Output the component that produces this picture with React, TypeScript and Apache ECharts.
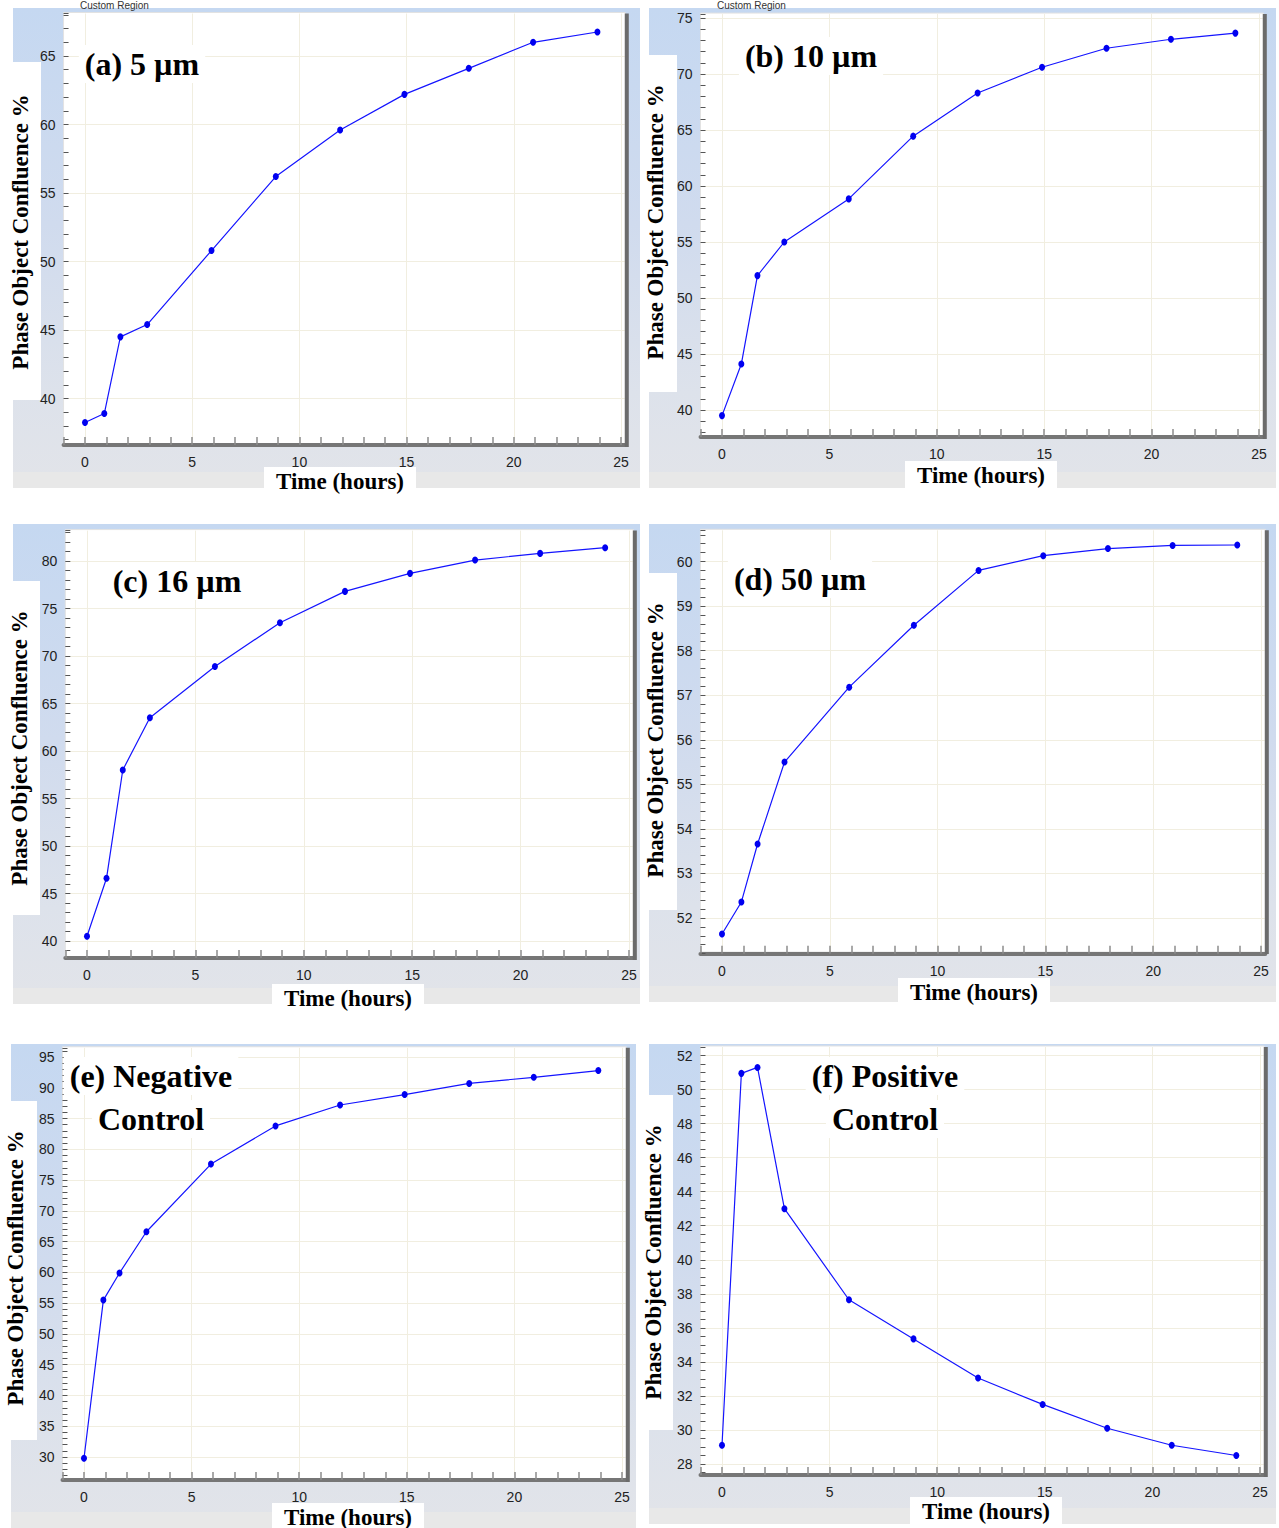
import React, { useEffect, useRef } from "react";
import * as echarts from "echarts";

// ---------------- data ----------------
const timeHours = [0, 0.9, 1.65, 2.9, 5.9, 8.9, 11.9, 14.9, 17.9, 20.9, 23.9];

const conf5um = [38.25, 38.9, 44.5, 45.4, 50.8, 56.2, 59.6, 62.2, 64.1, 66.0, 66.75];
const conf10um = [39.5, 44.1, 52.0, 55.0, 58.85, 64.45, 68.3, 70.6, 72.3, 73.1, 73.65];
const conf16um = [40.5, 46.6, 58.0, 63.5, 68.9, 73.5, 76.8, 78.7, 80.1, 80.8, 81.4];
const conf50um = [51.64, 52.36, 53.66, 55.5, 57.18, 58.57, 59.8, 60.13, 60.29, 60.36, 60.37];
const confNegative = [29.8, 55.5, 59.9, 66.6, 77.6, 83.8, 87.2, 88.9, 90.7, 91.7, 92.8];
const confPositive = [29.1, 50.95, 51.3, 43.0, 37.65, 35.35, 33.05, 31.5, 30.1, 29.1, 28.5];

const panelSeries = [conf5um, conf10um, conf16um, conf50um, confNegative, confPositive];
const panelTitles = [
  ["(a) 5 µm"],
  ["(b) 10 µm"],
  ["(c) 16 µm"],
  ["(d) 50 µm"],
  ["(e) Negative", "Control"],
  ["(f) Positive", "Control"],
];
const yAxisTitle = "Phase Object Confluence %";
const xAxisTitle = "Time (hours)";
const regionLabel = "Custom Region";

// y-axis ranges / tick steps per panel
const yMins = [37, 38, 39, 51.2, 27, 27.5];
const yMaxs = [68.1, 75.35, 83.2, 60.7, 96.5, 52.5];
const yTickSteps = [1, 1, 1, 0.2, 1, 0.5];
const yLabelSteps = [5, 5, 5, 1, 5, 2];
const xMin = -1;
const xMax = 25.2;
const xLabelStep = 5;

// ---------------- layout (pixel calibration of the screenshot) ----------------
const SANS = "'Liberation Sans Narrow', 'Arial Narrow', 'Liberation Sans', Arial, sans-serif";
const SERIF = "'Liberation Serif', 'Times New Roman', serif";

type Layout = {
  outer: number[];
  x0: number;
  x25: number;
  yA: number[];
  yB: number[];
  axisY: number;
  whiteBox: number[];
  yTitleC: number[];
  titleC: number[];
  xTitleC: number[];
};

const layouts: Layout[] = [
  { outer: [13, 8, 640, 488], x0: 85, x25: 621, yA: [65, 56], yB: [40, 398.5], axisY: 445, whiteBox: [13, 62, 41, 400], yTitleC: [20, 232], titleC: [142, 64], xTitleC: [340, 481] },
  { outer: [649, 8, 1276, 488], x0: 722, x25: 1259, yA: [75, 18], yB: [40, 410], axisY: 437, whiteBox: [649, 55, 677, 392], yTitleC: [655, 222], titleC: [811, 56], xTitleC: [981, 475] },
  { outer: [13, 524, 640, 1004], x0: 87, x25: 629, yA: [80, 561], yB: [40, 941], axisY: 958, whiteBox: [13, 581, 40, 915], yTitleC: [19, 748], titleC: [177, 581], xTitleC: [348, 998] },
  { outer: [649, 524, 1276, 1002], x0: 722, x25: 1261, yA: [60, 561.5], yB: [52, 918], axisY: 952, whiteBox: [649, 573, 677, 910], yTitleC: [655, 740], titleC: [800, 579], xTitleC: [974, 992] },
  { outer: [11, 1044, 636, 1528], x0: 84, x25: 622, yA: [95, 1057], yB: [30, 1457], axisY: 1480, whiteBox: [11, 1101, 37, 1440], yTitleC: [15, 1268], titleC: [151, 1076], xTitleC: [348, 1517] },
  { outer: [649, 1044, 1276, 1524], x0: 722, x25: 1260, yA: [52, 1055.5], yB: [28, 1464], axisY: 1475, whiteBox: [649, 1095, 673, 1430], yTitleC: [653, 1262], titleC: [885, 1076], xTitleC: [986, 1511] },
];

const isMultiple = (v: number, step: number) => Math.abs(v / step - Math.round(v / step)) < 1e-6;

function buildOption() {
  const grids: any[] = [];
  const xAxes: any[] = [];
  const yAxes: any[] = [];
  const gridX: any[] = [];
  const gridY: any[] = [];
  const series: any[] = [];
  const graphics: any[] = [];

  layouts.forEach((L, i) => {
    const ux = (L.x25 - L.x0) / 25;
    const left = L.x0 + xMin * ux;
    const right = L.x0 + xMax * ux;
    const uy = (L.yB[1] - L.yA[1]) / (L.yA[0] - L.yB[0]);
    const pix = (v: number) => L.yA[1] + (L.yA[0] - v) * uy;
    const top = pix(yMaxs[i]);
    const bottom = pix(yMins[i]);
    const offset = Math.max(0, L.axisY - bottom);

    grids.push({ left, top, width: right - left, height: bottom - top, show: false, containLabel: false, outerBoundsMode: "none" });

    xAxes.push({
      type: "value",
      gridIndex: i,
      position: "bottom",
      min: xMin,
      max: xMax,
      interval: 1,
      offset,
      axisLine: { show: true, onZero: false, lineStyle: { color: "#767676", width: 4 } },
      axisTick: { show: true, inside: true, length: 8, lineStyle: { color: "#8c8c8c", width: 1.5 } },
      axisLabel: {
        show: true,
        margin: 10,
        color: "#222",
        fontSize: 14,
        fontFamily: SANS,
        formatter: (v: number) => (v >= 0 && isMultiple(v, xLabelStep) ? String(Math.round(v)) : ""),
      },
      splitLine: { show: false },
    });
    yAxes.push({
      type: "value",
      gridIndex: i,
      position: "left",
      min: yMins[i],
      max: yMaxs[i],
      interval: yTickSteps[i],
      axisLine: { show: false, onZero: false },
      axisTick: { show: true, inside: true, length: 5, lineStyle: { color: "#555", width: 1 } },
      axisLabel: {
        show: true,
        margin: 8,
        color: "#222",
        fontSize: 14,
        fontFamily: SANS,
        formatter: (v: number) => (isMultiple(v, yLabelSteps[i]) ? String(Math.round(v)) : ""),
      },
      splitLine: { show: false },
    });
    gridX.push({
      type: "value",
      gridIndex: i,
      position: "top",
      min: xMin,
      max: xMax,
      minInterval: xLabelStep,
      maxInterval: xLabelStep,
      axisLine: { show: false, onZero: false },
      axisTick: { show: false },
      axisLabel: { show: false },
      splitLine: { show: true, showMinLine: false, showMaxLine: false, lineStyle: { color: "#f1eee0", width: 1 } },
    });
    gridY.push({
      type: "value",
      gridIndex: i,
      position: "right",
      min: yMins[i],
      max: yMaxs[i],
      minInterval: yLabelSteps[i],
      maxInterval: yLabelSteps[i],
      axisLine: { show: false, onZero: false },
      axisTick: { show: false },
      axisLabel: { show: false },
      splitLine: { show: true, showMinLine: false, showMaxLine: false, lineStyle: { color: "#f1eee0", width: 1 } },
    });

    series.push({
      type: "line",
      xAxisIndex: i,
      yAxisIndex: i,
      data: timeHours.map((t, k) => [t, panelSeries[i][k]]),
      symbol: "circle",
      symbolSize: [6, 7],
      lineStyle: { color: "#1414ff", width: 1.2 },
      itemStyle: { color: "#0000f0" },
      silent: true,
      z: 5,
    });

    // ---- decorations ----
    const o = L.outer;
    graphics.push({
      type: "rect",
      z: -20,
      shape: { x: o[0], y: o[1], width: o[2] - o[0], height: o[3] - o[1] },
      style: {
        fill: new echarts.graphic.LinearGradient(0, 0, 0, 1, [
          { offset: 0, color: "#c5d8f1" },
          { offset: 0.45, color: "#d0dbee" },
          { offset: 0.8, color: "#dde2eb" },
          { offset: 1, color: "#e2e4e9" },
        ]),
      },
    });
    graphics.push({
      type: "rect",
      z: -19,
      shape: { x: o[0], y: o[3] - 16, width: o[2] - o[0], height: 16 },
      style: { fill: "#e8e8e8" },
    });
    const wb = L.whiteBox;
    graphics.push({
      type: "rect",
      z: -19,
      shape: { x: wb[0], y: wb[1], width: wb[2] - wb[0], height: wb[3] - wb[1] },
      style: { fill: "#ffffff" },
    });
    // plot area
    graphics.push({
      type: "rect",
      z: -18,
      shape: { x: left, y: top - 1, width: right - left, height: L.axisY - top + 1 },
      style: { fill: "#ffffff", stroke: "#e2e2e2", lineWidth: 1 },
    });
    // right border of plot
    graphics.push({
      type: "rect",
      z: 3,
      shape: { x: right - 0.5, y: top, width: 4, height: L.axisY - top + 2 },
      style: { fill: "#6b6b6b" },
    });
    // y-axis title
    graphics.push({
      type: "text",
      z: 10,
      x: L.yTitleC[0],
      y: L.yTitleC[1],
      rotation: Math.PI / 2,
      style: {
        text: yAxisTitle,
        fill: "#000",
        font: `bold 23px ${SERIF}`,
        textAlign: "center",
        textVerticalAlign: "middle",
      },
    });
    // panel title
    panelTitles[i].forEach((line, k) => {
      graphics.push({
        type: "text",
        z: 10,
        x: L.titleC[0],
        y: L.titleC[1] + k * 43,
        style: {
          text: line,
          fill: "#000",
          font: `bold 32px ${SERIF}`,
          textAlign: "center",
          textVerticalAlign: "middle",
          backgroundColor: "#ffffff",
          padding: [3, 6, 3, 6],
        },
      });
    });
    // x-axis title with white box
    graphics.push({
      type: "rect",
      z: 9,
      shape: { x: L.xTitleC[0] - 76, y: L.xTitleC[1] - 14, width: 152, height: Math.min(28, 1528 - (L.xTitleC[1] - 14)) },
      style: { fill: "#ffffff" },
    });
    graphics.push({
      type: "text",
      z: 10,
      x: L.xTitleC[0],
      y: L.xTitleC[1],
      style: {
        text: xAxisTitle,
        fill: "#000",
        font: `bold 23px ${SERIF}`,
        textAlign: "center",
        textVerticalAlign: "middle",
      },
    });
  });

  // small "Custom Region" captions at the very top
  [80, 717].forEach((x) => {
    graphics.push({
      type: "text",
      z: -15,
      x,
      y: 5,
      style: { text: regionLabel, fill: "#333", font: `10px ${SANS}`, textAlign: "left", textVerticalAlign: "middle" },
    });
  });

  return {
    animation: false,
    backgroundColor: "#ffffff",
    grid: grids,
    xAxis: [...xAxes, ...gridX],
    yAxis: [...yAxes, ...gridY],
    series,
    graphic: { elements: graphics },
  };
}

export default function App() {
  const ref = useRef<HTMLDivElement>(null);
  useEffect(() => {
    if (!ref.current) return;
    const chart = echarts.init(ref.current, undefined, { renderer: "svg", width: 1279, height: 1528 });
    chart.setOption(buildOption() as any);
    return () => chart.dispose();
  }, []);
  return (
    <div
      ref={ref}
      style={{ position: "absolute", left: 0, top: 0, width: 1279, height: 1528 }}
    />
  );
}
